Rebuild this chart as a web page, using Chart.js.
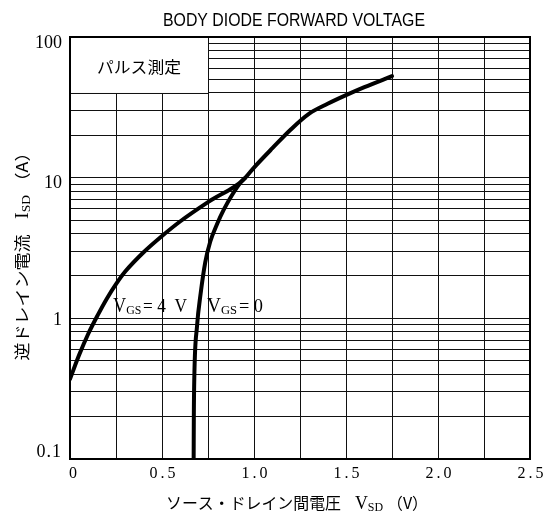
<!DOCTYPE html>
<html><head><meta charset="utf-8">
<script src="https://cdn.jsdelivr.net/npm/chart.js@4.4.1/dist/chart.umd.min.js"></script>
<style>html,body{margin:0;padding:0;background:#fff;}</style>
</head><body>
<canvas id="c" width="543" height="518" style="display:block"></canvas>
<script>
// ---- data ----
const titleText = 'BODY DIODE FORWARD VOLTAGE';
const vgs4Volt = [0, 0.05, 0.1, 0.15, 0.2, 0.25, 0.3, 0.4, 0.5, 0.6, 0.75, 0.94, 1.0, 1.1, 1.2, 1.3, 1.4, 1.5, 1.6, 1.75];
const vgs4Curr = [0.37, 0.55, 0.78, 1.05, 1.38, 1.75, 2.15, 2.95, 3.85, 4.9, 6.7, 9.6, 11.8, 16.2, 22, 28.5, 33.5, 38.6, 44, 52.7];
const vgs0Volt = [0.672, 0.673, 0.676, 0.69, 0.71, 0.735, 0.762, 0.8, 0.835, 0.88, 0.935, 0.95];
const vgs0Curr = [0.1, 0.2, 0.4, 0.87, 1.5, 2.5, 3.5, 4.7, 5.9, 7.5, 9.5, 9.9];
const xGridValues = [0, 0.25, 0.5, 0.75, 1.0, 1.25, 1.5, 1.75, 2.0, 2.25, 2.5];
const xTickValues = [0, 0.5, 1.0, 1.5, 2.0, 2.5];
const xTickLabels = ['0', '0.5', '1.0', '1.5', '2.0', '2.5'];
const yGridValues = [0.1,0.2,0.3,0.4,0.5,0.6,0.7,0.8,0.9,1,2,3,4,5,6,7,8,9,10,20,30,40,50,60,70,80,90,100];
const yTickValues = [0.1, 1, 10, 100];
const yTickLabels = ['0.1', '1', '10', '100'];
const noteText = 'パルス測定';
const noteBox = {x0: 0, x1: 0.75, y0: 40, y1: 100};

const SERIF = '"Liberation Serif", "DejaVu Serif", serif';
const JP = '"Noto Sans CJK JP", sans-serif';

function drawRich(ctx, segs, x, y, align, targetW) {
  let w = 0;
  segs.forEach(s => { ctx.font = s.font; ctx.letterSpacing = (s.ls || 0) + 'px'; s.w = ctx.measureText(s.t).width + (s.gap || 0); w += s.w; });
  const sc = targetW ? targetW / w : 1;
  ctx.save();
  ctx.translate(x, y);
  ctx.scale(sc, 1);
  let sx = align === 'center' ? -w / 2 : (align === 'right' ? -w : 0);
  ctx.textAlign = 'left';
  ctx.textBaseline = 'alphabetic';
  ctx.fillStyle = '#000';
  segs.forEach(s => { ctx.font = s.font; ctx.letterSpacing = (s.ls || 0) + 'px'; ctx.fillText(s.t, sx, s.dy || 0); sx += s.w; });
  ctx.restore();
  ctx.letterSpacing = '0px';
}

const decor = {
  id: 'decor',
  beforeDatasetsDraw(chart) {
    const {ctx, scales: {x, y}} = chart;
    const l = x.getPixelForValue(noteBox.x0), r = x.getPixelForValue(noteBox.x1);
    const t = y.getPixelForValue(noteBox.y1), b = y.getPixelForValue(noteBox.y0);
    ctx.save();
    ctx.fillStyle = '#fff';
    ctx.fillRect(l, t, r - l, b - t);
    ctx.strokeStyle = '#111'; ctx.lineWidth = 1;
    ctx.beginPath();
    ctx.moveTo(l, Math.round(b) + 0.5); ctx.lineTo(r, Math.round(b) + 0.5);
    ctx.moveTo(Math.round(r) + 0.5, t); ctx.lineTo(Math.round(r) + 0.5, b);
    ctx.stroke();
    ctx.restore();
    drawRich(ctx, [{t: noteText, font: '16px ' + JP}], (l + r) / 2, 73, 'center', 84);
  },
  afterDraw(chart) {
    const {ctx, chartArea: a, scales: {x, y}} = chart;
    ctx.save();
    ctx.strokeStyle = '#000'; ctx.lineWidth = 2;
    ctx.strokeRect(a.left, a.top, a.right - a.left, a.bottom - a.top);
    ctx.restore();
    // title
    drawRich(ctx, [{t: titleText, font: '18px "Liberation Sans", sans-serif'}], 294, 26, 'center', 262);
    // y tick labels
    const yOff = {'0.1': -2, '1': 7, '10': 10, '100': 11};
    yTickValues.forEach((v, i) => {
      drawRich(ctx, [{t: yTickLabels[i], font: '18px ' + SERIF, ls: i === 0 ? 1 : 0}], 62, y.getPixelForValue(v) + yOff[yTickLabels[i]], 'right');
    });
    // x tick labels
    xTickValues.forEach((v, i) => {
      const s = xTickLabels[i];
      drawRich(ctx, [{t: s, font: '16px ' + SERIF, ls: s.length > 1 ? 3 : 0}], x.getPixelForValue(v) + (s.length > 1 ? 2 : 3), 478, 'center');
    });
    // x axis title
    drawRich(ctx, [
      {t: 'ソース・ドレイン間電圧', font: '16px ' + JP, gap: 14},
      {t: 'V', font: '18px ' + SERIF},
      {t: 'SD', font: '12px ' + SERIF, dy: 2, gap: 4},
      {t: '（V）', font: '16px ' + JP}
    ], 297, 509, 'center', 262);
    // y axis title (rotated)
    ctx.save();
    ctx.translate(28, 252);
    ctx.rotate(-Math.PI / 2);
    drawRich(ctx, [
      {t: '逆ドレイン電流', font: '16px ' + JP, gap: 14},
      {t: 'I', font: '18px ' + SERIF},
      {t: 'SD', font: '12px ' + SERIF, dy: 2, gap: 4},
      {t: '（A）', font: '16px ' + JP}
    ], 0, 0, 'center', 217);
    ctx.restore();
    // curve labels
    drawRich(ctx, [
      {t: 'V', font: '20px ' + SERIF},
      {t: 'GS', font: '13px ' + SERIF, dy: 2, gap: 2},
      {t: '= 4  V', font: '19px ' + SERIF}
    ], 113, 312, 'left', 74);
    drawRich(ctx, [
      {t: 'V', font: '20px ' + SERIF},
      {t: 'GS', font: '13px ' + SERIF, dy: 2, gap: 2},
      {t: '= 0', font: '19px ' + SERIF}
    ], 207, 312, 'left', 56);
  }
};

const ctx = document.getElementById('c').getContext('2d');
new Chart(ctx, {
  type: 'scatter',
  data: {
    datasets: [
      {label: 'VGS=4 V', data: vgs4Volt.map((v, i) => ({x: v, y: vgs4Curr[i]})), showLine: true,
       borderColor: '#000', borderWidth: 4, pointRadius: 0, cubicInterpolationMode: 'monotone', fill: false, borderCapStyle: 'round'},
      {label: 'VGS=0', data: vgs0Volt.map((v, i) => ({x: v, y: vgs0Curr[i]})), showLine: true,
       borderColor: '#000', borderWidth: 4, pointRadius: 0, cubicInterpolationMode: 'monotone', fill: false, borderCapStyle: 'round'}
    ]
  },
  options: {
    responsive: false,
    animation: false,
    devicePixelRatio: 1,
    layout: {padding: {left: 70, right: 13, top: 37, bottom: 59}},
    plugins: {legend: {display: false}, tooltip: {enabled: false}, title: {display: false}},
    scales: {
      x: {
        type: 'linear', min: 0, max: 2.5,
        afterBuildTicks: s => { s.ticks = xGridValues.map(v => ({value: v})); },
        ticks: {display: false},
        grid: {color: '#111', lineWidth: 1, drawTicks: false},
        border: {display: true, color: '#000', width: 2}
      },
      y: {
        type: 'logarithmic', min: 0.1, max: 100,
        afterBuildTicks: s => { s.ticks = yGridValues.map(v => ({value: v})); },
        ticks: {display: false},
        grid: {color: '#111', lineWidth: 1, drawTicks: false},
        border: {display: true, color: '#000', width: 2}
      }
    }
  },
  plugins: [decor]
});
</script>
</body></html>
